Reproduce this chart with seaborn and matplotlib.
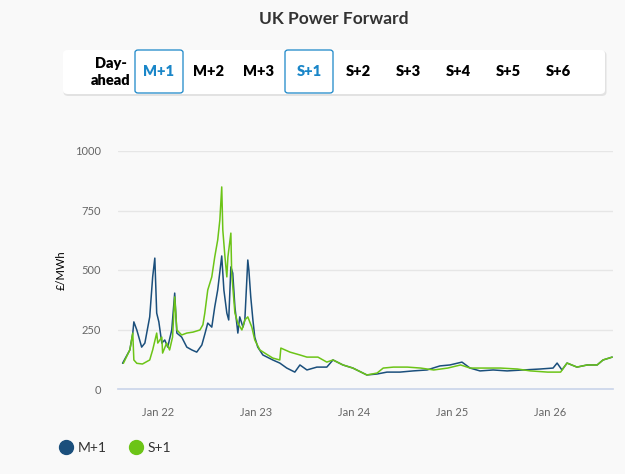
import pandas as pd
import numpy as np
import matplotlib
matplotlib.use("Agg")
import matplotlib.pyplot as plt
import matplotlib.dates as mdates
from matplotlib.patches import FancyBboxPatch
from matplotlib.lines import Line2D
import seaborn as sns

# Data (GBP/MWh)
m1_dates = ["2021-08-23", "2021-09-19", "2021-09-30", "2021-10-04", "2021-10-15", "2021-11-02",
            "2021-11-14", "2021-12-02", "2021-12-13", "2021-12-21", "2021-12-28", "2022-01-05",
            "2022-01-16", "2022-01-27", "2022-02-07", "2022-02-22", "2022-03-05", "2022-03-13",
            "2022-03-31", "2022-04-19", "2022-05-08", "2022-05-26", "2022-06-14", "2022-06-25",
            "2022-07-06", "2022-07-21", "2022-08-01", "2022-08-12", "2022-08-27", "2022-09-04",
            "2022-09-15", "2022-09-22", "2022-09-30", "2022-10-07", "2022-10-15", "2022-10-26",
            "2022-11-02", "2022-11-14", "2022-11-21", "2022-12-02", "2022-12-06", "2022-12-13",
            "2022-12-21", "2022-12-28", "2023-01-08", "2023-01-27", "2023-03-05", "2023-03-31",
            "2023-04-26", "2023-05-26", "2023-06-14", "2023-07-10", "2023-08-16", "2023-09-22",
            "2023-10-15", "2023-11-21", "2023-12-28", "2024-02-18", "2024-03-27", "2024-05-03",
            "2024-06-20", "2024-08-08", "2024-09-29", "2024-11-16", "2024-12-23", "2025-02-06",
            "2025-03-08", "2025-04-14", "2025-06-02", "2025-07-24", "2025-09-21", "2025-11-24",
            "2026-01-11", "2026-01-26", "2026-02-13", "2026-03-04", "2026-04-10", "2026-05-18",
            "2026-06-24", "2026-07-16", "2026-08-19"]
m1_values = [108, 164, 235, 282, 248, 176,
             193, 303, 471, 550, 319, 282,
             193, 206, 176, 248, 403, 235,
             218, 176, 164, 155, 185, 230,
             277, 260, 345, 416, 559, 416,
             319, 290, 513, 487, 345, 235,
             303, 260, 290, 542, 500, 387,
             290, 218, 176, 143, 122, 109,
             88, 71, 101, 80, 92, 92,
             122, 101, 88, 59, 63, 71,
             71, 76, 80, 97, 101, 113,
             88, 76, 80, 76, 80, 84,
             88, 109, 80, 109, 92, 101,
             101, 122, 134]

s1_dates = ["2021-08-26", "2021-09-19", "2021-09-30", "2021-10-04", "2021-10-15", "2021-11-05",
            "2021-12-02", "2021-12-13", "2021-12-28", "2022-01-01", "2022-01-16", "2022-01-19",
            "2022-02-03", "2022-02-14", "2022-02-25", "2022-03-05", "2022-03-13", "2022-03-31",
            "2022-04-19", "2022-05-12", "2022-06-07", "2022-06-18", "2022-06-25", "2022-07-06",
            "2022-07-21", "2022-08-01", "2022-08-12", "2022-08-20", "2022-08-27", "2022-08-31",
            "2022-09-08", "2022-09-15", "2022-09-19", "2022-09-30", "2022-10-03", "2022-10-15",
            "2022-10-26", "2022-11-10", "2022-11-21", "2022-12-02", "2022-12-17", "2022-12-28",
            "2023-01-16", "2023-02-03", "2023-03-05", "2023-03-31", "2023-04-04", "2023-05-08",
            "2023-06-14", "2023-07-10", "2023-08-20", "2023-09-22", "2023-10-15", "2023-11-21",
            "2023-12-28", "2024-02-18", "2024-03-27", "2024-04-19", "2024-05-27", "2024-07-18",
            "2024-09-05", "2024-10-24", "2024-12-15", "2025-02-01", "2025-03-08", "2025-04-26",
            "2025-06-29", "2025-08-31", "2025-10-19", "2025-12-22", "2026-02-08", "2026-03-04",
            "2026-04-10", "2026-05-18", "2026-06-24", "2026-07-16", "2026-08-19"]
s1_values = [108, 164, 235, 122, 108, 105,
             122, 164, 235, 193, 218, 151,
             193, 164, 218, 387, 248, 227,
             235, 239, 248, 270, 319, 416,
             471, 555, 626, 710, 849, 668,
             555, 471, 555, 655, 487, 319,
             277, 248, 290, 303, 260, 206,
             164, 151, 130, 122, 172, 155,
             143, 134, 134, 113, 122, 101,
             88, 59, 67, 88, 92, 92,
             88, 80, 88, 101, 88, 88,
             88, 84, 76, 71, 71, 109,
             92, 101, 101, 122, 134]

series_names = ["M+1", "S+1"]
series_colors = ["#1b4f7c", "#6cc417"]
buttons = ["M+1", "M+2", "M+3", "S+1", "S+2", "S+3", "S+4", "S+5", "S+6"]
selected = ["M+1", "S+1"]
y_ticks = [0, 250, 500, 750, 1000]

df = pd.concat([
    pd.DataFrame({"date": pd.to_datetime(m1_dates), "price": m1_values, "contract": "M+1"}),
    pd.DataFrame({"date": pd.to_datetime(s1_dates), "price": s1_values, "contract": "S+1"}),
])

bg = "#f9f9f9"
sns.set_theme(style="white")
plt.rcParams["font.family"] = ["Lato", "DejaVu Sans"]

W, H = 625, 474
fig = plt.figure(figsize=(6.25, 4.74), dpi=100, facecolor=bg)
ax = fig.add_axes([118 / W, 1 - 389 / H, 495 / W, 238 / H])
ax.set_facecolor(bg)

sns.lineplot(data=df, x="date", y="price", hue="contract", palette=series_colors,
             hue_order=series_names, linewidth=1.1, ax=ax, legend=False)

ax.set_ylim(0, 1000)
ax.set_xlim(pd.Timestamp("2021-08-06"), pd.Timestamp("2026-08-22"))
ax.set_yticks(y_ticks)
ax.set_yticklabels([str(t) for t in y_ticks], color="#666666", fontsize=8)
ax.yaxis.grid(True, color="#e6e6e6", linewidth=1)
ax.set_axisbelow(True)
ax.tick_params(axis="y", length=0, pad=12)
ax.xaxis.set_major_locator(mdates.YearLocator())
ax.xaxis.set_major_formatter(mdates.DateFormatter("Jan %y"))
ax.tick_params(axis="x", length=10, width=1, color="#ccd6eb", labelcolor="#666666",
               labelsize=8, pad=3)
for side in ["left", "right", "top"]:
    ax.spines[side].set_visible(False)
ax.spines["bottom"].set_color("#ccd6eb")
ax.set_xlabel("")
ax.set_ylabel("")
fig.text(61 / W, 1 - 270 / H, "£/MWh", rotation=90, ha="center", va="center",
         fontsize=8, color="#000000")

# Title
fig.text(334 / W, 1 - 19 / H, "UK Power Forward", ha="center", va="center",
         fontsize=12.5, fontweight="bold", color="#333333")

# Button bar
shadow = FancyBboxPatch((63.5 / W, 1 - 96 / H), 543 / W, 45 / H,
                        boxstyle="round,pad=0,rounding_size=0.008",
                        transform=fig.transFigure, facecolor="#d9d9d9", edgecolor="none",
                        alpha=0.7)
bar = FancyBboxPatch((63 / W, 1 - 94 / H), 542 / W, 44 / H,
                     boxstyle="round,pad=0,rounding_size=0.008",
                     transform=fig.transFigure, facecolor="white", edgecolor="none")
fig.patches.extend([shadow, bar])

fig.text(111 / W, 1 - 72 / H, "Day-\nahead", ha="center", va="center", fontsize=10.5,
         fontweight="heavy", color="#000000", linespacing=1.45)
btn_x = [159, 208, 258, 309, 358, 408, 458, 508, 558]
for name, bx in zip(buttons, btn_x):
    if name in selected:
        box = FancyBboxPatch(((bx - 24) / W, 1 - 93 / H), 48 / W, 43 / H,
                             boxstyle="round,pad=0,rounding_size=0.005",
                             transform=fig.transFigure, facecolor="white",
                             edgecolor="#1a86c8", linewidth=0.9)
        fig.patches.append(box)
        col = "#1a86c8"
    else:
        col = "#000000"
    fig.text(bx / W, 1 - 72 / H, name, ha="center", va="center", fontsize=10.5,
             fontweight="heavy", color=col)

# Legend
handles = [Line2D([], [], marker="o", linestyle="none", markersize=10,
                  markerfacecolor=c, markeredgecolor=c) for c in series_colors]
fig.legend(handles, series_names, loc="center left", bbox_to_anchor=(45 / W, 1 - 448 / H),
           ncol=2, frameon=False, fontsize=10, handletextpad=0.25, columnspacing=1.5,
           handlelength=1.2, labelcolor="#333333")

fig.savefig("out.png", dpi=100, facecolor=bg)
